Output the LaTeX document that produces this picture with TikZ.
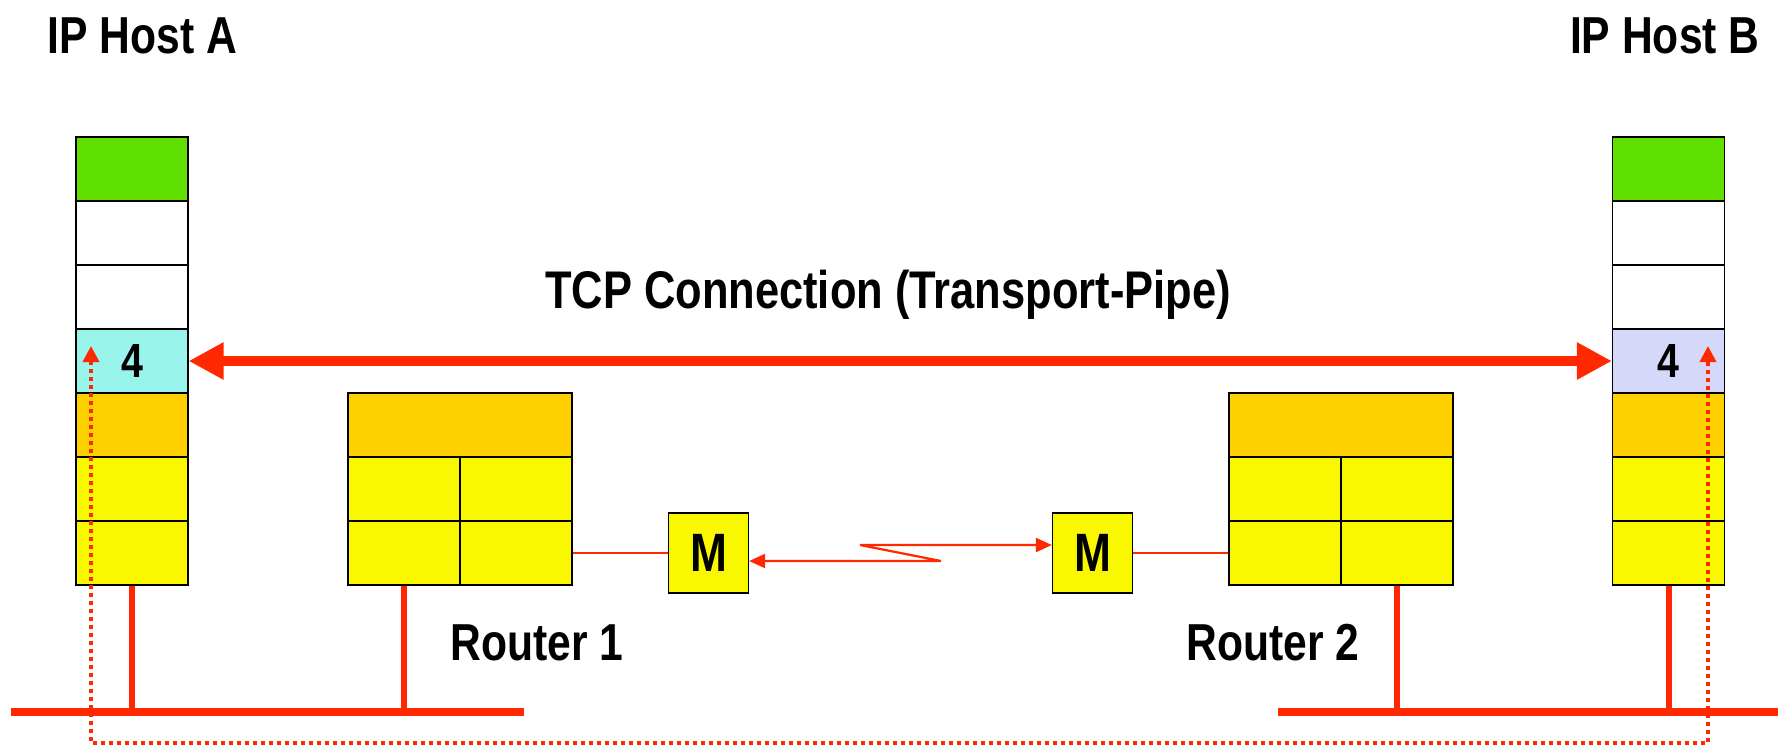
\documentclass[tikz,border=0pt]{standalone}
\usepackage{fontspec}
\setmainfont{Liberation Sans}[FakeStretch=0.82]
\usetikzlibrary{arrows.meta}
\definecolor{lnred}{HTML}{FF2800}
\definecolor{cgreen}{HTML}{5FE000}
\definecolor{ccyan}{HTML}{99F4EC}
\definecolor{clav}{HTML}{D6D8FA}
\definecolor{corange}{HTML}{FFD000}
\definecolor{cyel}{HTML}{FAF800}
\tikzset{
  cellbox/.style={draw=black, line width=0.6pt, inner sep=0pt, minimum width=56pt, minimum height=32pt},
  lbl/.style={inner sep=0pt, font=\fontsize{26}{30}\selectfont\bfseries},
  wire/.style={draw=lnred, line width=3pt},
  busline/.style={draw=lnred, line width=3.75pt},
  thinwire/.style={draw=lnred, line width=1.2pt},
  pipe/.style={draw=lnred, line width=5pt,
    {Triangle[length=17.5pt,width=17.5pt]}-{Triangle[length=17.5pt,width=17.5pt]}},
  radiolink/.style={draw=lnred, line width=1.1pt,
    {Triangle[length=8pt,width=7pt]}-{Triangle[length=8pt,width=7pt]}},
  dotpath/.style={draw=lnred, line width=1.8pt, dash pattern=on 2pt off 2pt,
    {Triangle[length=8pt,width=8pt]}-{Triangle[length=8pt,width=8pt]}},
  modem/.style={draw=black, fill=cyel, line width=0.6pt, minimum size=40pt, inner sep=0pt,
    font=\fontsize{27}{27}\selectfont\bfseries},
  layernum/.style={font=\fontsize{24}{24}\selectfont\bfseries}
}
\begin{document}
\begin{tikzpicture}[x=0.5pt,y=-0.5pt]
\useasboundingbox (0,0) rectangle (1778,746);

% titles
\node[lbl, anchor=base west] (ha) at (47,53) {IP Host A};
\node[lbl, anchor=base east] (hb) at (1760,53) {IP Host B};
\node[lbl, font=\fontsize{26.5}{30}\selectfont\bfseries, anchor=base] (tcp) at (888,308) {TCP Connection (Transport-Pipe)};

% protocol stack of host A
\node[cellbox, fill=cgreen]  (a1) at (132,169) {};
\node[cellbox, fill=white]   (a2) at (132,233) {};
\node[cellbox, fill=white]   (a3) at (132,297) {};
\node[cellbox, fill=ccyan, layernum] (a4) at (132,361) {4};
\node[cellbox, fill=corange] (a5) at (132,425) {};
\node[cellbox, fill=cyel]    (a6) at (132,489) {};
\node[cellbox, fill=cyel]    (a7) at (132,553) {};

% protocol stack of host B
\node[cellbox, fill=cgreen]  (b1) at (1668.5,169) {};
\node[cellbox, fill=white]   (b2) at (1668.5,233) {};
\node[cellbox, fill=white]   (b3) at (1668.5,297) {};
\node[cellbox, fill=clav, layernum] (b4) at (1668.5,361) {4};
\node[cellbox, fill=corange] (b5) at (1668.5,425) {};
\node[cellbox, fill=cyel]    (b6) at (1668.5,489) {};
\node[cellbox, fill=cyel]    (b7) at (1668.5,553) {};

% router 1
\node[cellbox, fill=corange, minimum width=112pt] (r1t) at (460,425) {};
\node[cellbox, fill=cyel] (r1a) at (404,489) {};
\node[cellbox, fill=cyel] (r1b) at (516,489) {};
\node[cellbox, fill=cyel] (r1c) at (404,553) {};
\node[cellbox, fill=cyel] (r1d) at (516,553) {};
\node[lbl, anchor=base west] (rl1) at (450,660) {Router 1};

% router 2
\node[cellbox, fill=corange, minimum width=112pt] (r2t) at (1341,425) {};
\node[cellbox, fill=cyel] (r2a) at (1285,489) {};
\node[cellbox, fill=cyel] (r2b) at (1397,489) {};
\node[cellbox, fill=cyel] (r2c) at (1285,553) {};
\node[cellbox, fill=cyel] (r2d) at (1397,553) {};
\node[lbl, anchor=base west] (rl2) at (1186,660) {Router 2};

% modems
\node[modem] (m1) at (708.5,553) {M};
\node[modem] (m2) at (1092.5,553) {M};

% end-to-end transport pipe
\draw[pipe] (a4.east) -- (b4.west);

% router to modem leads
\draw[thinwire] (r1d.east) -- (m1.west);
\draw[thinwire] (m2.east) -- (r2c.west);

% serial link between the modems
\coordinate (z1) at (860,545);
\coordinate (z2) at (941,561);
\draw[radiolink] (z2 -| m1.east) -- (z2) -- (z1) -- (z1 -| m2.west);

% LAN segments
\coordinate (busAw) at (11,712);
\coordinate (busAe) at (524,712);
\coordinate (busBw) at (1278,712);
\coordinate (busBe) at (1778,712);
\draw[busline] (busAw) -- (busAe);
\draw[busline] (busBw) -- (busBe);
\draw[wire] (a7.south) -- (a7.south |- busAw);
\draw[wire] (r1c.south) -- (r1c.south |- busAw);
\draw[wire] (r2d.south) -- (r2d.south |- busBw);
\draw[wire] (b7.south) -- (b7.south |- busBw);

% data path through the layers
\coordinate (dA) at (91,346);
\coordinate (dAb) at (91,743);
\coordinate (dBb) at (1708,743);
\coordinate (dB) at (1708,346);
\draw[dotpath] (dA) -- (dAb) -- (dBb) -- (dB);
\end{tikzpicture}
\end{document}
